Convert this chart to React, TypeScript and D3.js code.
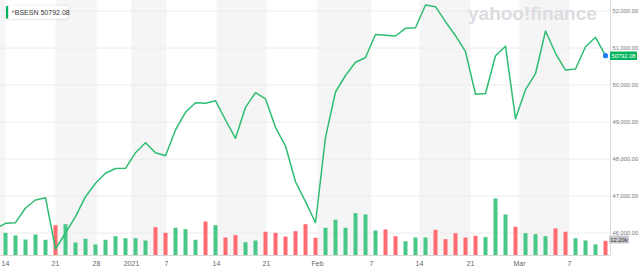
import React from "react";
import * as d3 from "d3";

// closes: index -1 .. 60 (first value is the off-screen previous session)
const closes = [
  46108, 46262, 46280, 46676, 46892, 46954, 45568, 46000, 46441, 46981,
  47343, 47614, 47743, 47749, 48170, 48441, 48170, 48089, 48784, 49262,
  49522, 49505, 49576, 49054, 48559, 49397, 49792, 49622, 48857, 48351,
  47386, 46846, 46278, 48586, 49811, 50257, 50614, 50743, 51365, 51343,
  51324, 51532, 51549, 52162, 52116, 51711, 51332, 50900, 49749, 49771,
  50792, 51049, 49089, 49873, 50305, 51459, 50857, 50405, 50432, 51035,
  51289, 50792.08,
];
// volumes in thousands, index 0 .. 60
const volumes = [
  18.9, 16.7, 13.3, 17.5, 13.1, 25.3, 26.1, 10.8, 13.9, 9.2,
  13.1, 16.1, 14.4, 14.4, 12.5, 23.6, 18.9, 23.1, 21.9, 13.1,
  28.3, 25.3, 15.0, 16.9, 11.1, 12.5, 19.8, 18.9, 15.8, 20.3,
  26.1, 14.8, 23.1, 29.8, 23.1, 35.3, 34.2, 20.8, 21.7, 16.1,
  11.9, 15.0, 15.0, 21.4, 13.6, 18.6, 15.0, 16.4, 15.3, 47.5,
  34.2, 23.9, 18.6, 17.8, 16.1, 22.5, 19.8, 14.4, 12.5, 9.2,
  12.2,
];
const tickLabels = ["14", "21", "28", "2021", "7", "14", "21", "Feb", "7", "14", "21", "Mar", "7"];
const tickIdx = [0, 5, 9.1, 12.6, 16.1, 21.1, 26.1, 31.2, 36.6, 41.4, 46.5, 51.4, 56.4];
const priceTicks = [46000, 47000, 48000, 49000, 50000, 51000, 52000];
const symbol = "^BSESN";
const lastVolLabel = "12.20k";

const W = 640;
const H = 272;
const plotRight = 610;
const axisY = 255.5;
const FONT = "'Liberation Sans', Arial, Helvetica, sans-serif";

export default function App() {
  const x = d3.scaleLinear().domain([0, 60]).range([5.5, 605.5]);
  const y = d3.scaleLinear().domain([46000, 52000]).range([233, 11]);
  const yVol = d3.scaleLinear().domain([0, 50]).range([axisY, axisY - 60]);

  const pts: [number, number][] = closes.map((c, k) => [x(k - 1), y(c)]);
  const line = d3.line()(pts) || "";

  // alternating background bands between tick positions
  const bounds = [-4.5, ...tickIdx, 70];
  const bands = [];
  for (let k = 0; k < bounds.length - 1; k++) {
    if (k % 2 === 0) {
      bands.push({ x0: x(bounds[k]), x1: x(bounds[k + 1]) });
    }
  }

  const last = closes[closes.length - 1];
  const lastY = y(last);
  const fmt = d3.format(",.2f");

  return (
    <svg
      width={W}
      height={H}
      style={{ position: "fixed", left: 0, top: 0, background: "#fff" }}
      fontFamily={FONT}
    >
      <defs>
        <clipPath id="plot">
          <rect x={0} y={0} width={plotRight} height={H} />
        </clipPath>
        <filter id="sh" x="-20%" y="-50%" width="140%" height="200%">
          <feDropShadow dx="0" dy="0.5" stdDeviation="1" floodColor="#000" floodOpacity="0.18" />
        </filter>
      </defs>
      <g clipPath="url(#plot)">
        {bands.map((b, k) => (
          <rect key={k} x={b.x0} y={0} width={b.x1 - b.x0} height={axisY} fill="#f5f5f5" />
        ))}
      </g>
      {priceTicks.map((t) => (
        <line key={t} x1={0} x2={plotRight} y1={y(t)} y2={y(t)} stroke="#ececec" strokeWidth={1} />
      ))}
      <text x={468} y={19.5} fontSize={19} fontWeight="bold" fill="#dcdce2">
        yahoo!finance
      </text>
      <g clipPath="url(#plot)">
        {volumes.map((v, k) => {
          const up = closes[k + 1] >= closes[k];
          return (
            <rect
              key={k}
              x={x(k) - 2}
              y={yVol(v)}
              width={4}
              height={axisY - yVol(v)}
              fill={up ? "#48c887" : "#ff6b70"}
            />
          );
        })}
        <path d={line} fill="none" stroke="#2fbd72" strokeWidth={1.5} strokeLinejoin="round" />
      </g>
      <line x1={0} x2={plotRight} y1={axisY} y2={axisY} stroke="#d6d6d6" />
      <line x1={plotRight + 0.5} x2={plotRight + 0.5} y1={0} y2={axisY} stroke="#dcdcdc" />
      {priceTicks.map((t) => (
        <text key={t} x={612.5} y={y(t)} dy="0.35em" fontSize={5.8} fill="#7a7a7a">
          {fmt(t)}
        </text>
      ))}
      {tickLabels.map((l, k) => (
        <text key={k} x={x(tickIdx[k])} y={266} textAnchor="middle" fontSize={7} fill="#666">
          {l}
        </text>
      ))}
      {/* last volume label */}
      <rect x={609} y={235.5} width={20} height={8} fill="#c8c9cf" rx={1} />
      <text x={619} y={239.5} dy="0.35em" textAnchor="middle" fontSize={5.8} fill="#333">
        {lastVolLabel}
      </text>
      {/* last price label */}
      <rect x={610} y={lastY - 4.3} width={27} height={8.6} fill="#00b35c" rx={1} />
      <text x={623.5} y={lastY} dy="0.35em" textAnchor="middle" fontSize={5.8} fill="#fff">
        {last.toFixed(2)}
      </text>
      <circle cx={x(60)} cy={lastY} r={2.6} fill="#1e7cf2" />
      {/* legend */}
      <g filter="url(#sh)">
        <rect x={6} y={6} width={62} height={12.5} fill="#fff" rx={1} />
      </g>
      <rect x={6} y={6} width={2.2} height={12.5} fill="#00b35c" />
      <text x={11.5} y={12.3} dy="0.35em" fontSize={7} fill="#333">
        {symbol} {last.toFixed(2)}
      </text>
    </svg>
  );
}
